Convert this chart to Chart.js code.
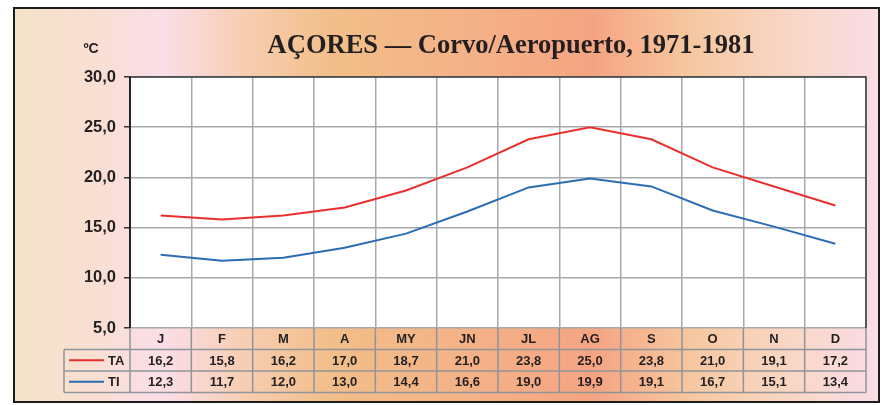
<!DOCTYPE html>
<html>
<head>
<meta charset="utf-8">
<script src="https://cdn.jsdelivr.net/npm/chart.js@4/dist/chart.umd.min.js"></script>
<style>
  body { margin: 0; background: #fff; }
  #frame {
    position: absolute; left: 13px; top: 7px; width: 867px; height: 396px;
    box-sizing: border-box; border: 2px solid #1c1c1c;
    background: linear-gradient(to right, #f4e3c8 0%, #f9dfd2 9%, #fbdee8 17%, #f7cdb0 27%, #f2be88 37%, #f4b287 52%, #f5a482 67%, #f6c79f 78%, #f9d6c2 89%, #fadde6 100%);
  }
  #wrap { position: absolute; left: 0; top: 0; width: 887px; height: 405px; }
</style>
</head>
<body>
<div id="frame"></div>
<div id="wrap"><canvas id="chart"></canvas></div>
<script>
// Corvo/Aeropuerto monthly temperatures
const months = ['J', 'F', 'M', 'A', 'MY', 'JN', 'JL', 'AG', 'S', 'O', 'N', 'D'];
const taValues = [16.2, 15.8, 16.2, 17.0, 18.7, 21.0, 23.8, 25.0, 23.8, 21.0, 19.1, 17.2];
const tiValues = [12.3, 11.7, 12.0, 13.0, 14.4, 16.6, 19.0, 19.9, 19.1, 16.7, 15.1, 13.4];
const seriesNames = ['TA', 'TI'];
const yTicks = [5, 10, 15, 20, 25, 30];

const titleText = 'AÇORES — Corvo/Aeropuerto, 1971-1981';
const unitText = 'ºC';
const gridColor = '#a6aaae';
const tableLine = '#8f959a';

function fmt(v) { return v.toFixed(1).replace('.', ','); }

// white plot background
const plotBg = {
    id: 'plotBg',
    beforeDraw(chart) {
        const a = chart.chartArea;
        chart.ctx.save();
        chart.ctx.fillStyle = '#fff';
        chart.ctx.fillRect(a.left, a.top, a.right - a.left, a.bottom - a.top);
        chart.ctx.restore();
    }
};

// draws title, plot frame and the data table under the plot
const tablePlugin = {
    id: 'tablePlugin',
    afterDraw(chart) {
        const ctx = chart.ctx;
        const area = chart.chartArea;
        const x = chart.scales.x;
        const colW = (area.right - area.left) / months.length;
        const rowH = 21.5;
        const legendLeft = area.left - 66;
        ctx.save();

        // title + unit
        ctx.fillStyle = '#231f20';
        ctx.font = 'bold 26.5px "Liberation Serif", "Times New Roman", serif';
        ctx.textAlign = 'center';
        ctx.textBaseline = 'middle';
        ctx.fillText(titleText, 511, 46);
        ctx.font = 'bold 14px "Liberation Sans", Arial, sans-serif';
        ctx.fillText(unitText, 91, 49);

        // table lines
        ctx.strokeStyle = tableLine;
        ctx.lineWidth = 1.5;
        ctx.beginPath();
        for (let r = 1; r <= 3; r++) {
            const y = area.bottom + r * rowH;
            ctx.moveTo(legendLeft, y);
            ctx.lineTo(area.right, y);
        }
        ctx.moveTo(legendLeft, area.bottom + rowH);
        ctx.lineTo(legendLeft, area.bottom + 3 * rowH);
        for (let i = 0; i <= months.length; i++) {
            const xx = area.left + i * colW;
            ctx.moveTo(xx, area.bottom);
            ctx.lineTo(xx, area.bottom + 3 * rowH);
        }
        ctx.stroke();

        // plot frame
        ctx.strokeStyle = '#3a3a3a';
        ctx.lineWidth = 1.5;
        ctx.beginPath();
        ctx.moveTo(area.left, area.bottom);
        ctx.lineTo(area.left, area.top);
        ctx.lineTo(area.right, area.top);
        ctx.lineTo(area.right, area.bottom);
        ctx.stroke();
        ctx.strokeStyle = '#111';
        ctx.beginPath();
        ctx.moveTo(area.left, area.top);
        ctx.lineTo(area.left, area.bottom);
        ctx.stroke();

        // months and values
        ctx.fillStyle = '#231f20';
        ctx.font = 'bold 13px "Liberation Sans", Arial, sans-serif';
        ctx.textAlign = 'center';
        months.forEach((m, i) => {
            const cx = x.getPixelForValue(i);
            ctx.fillText(m, cx, area.bottom + rowH * 0.5 + 1);
            chart.data.datasets.forEach((ds, d) => {
                ctx.fillText(fmt(ds.data[i]), cx, area.bottom + rowH * (1.5 + d) + 1);
            });
        });

        // legend cells
        chart.data.datasets.forEach((ds, d) => {
            const cy = area.bottom + rowH * (1.5 + d);
            ctx.strokeStyle = ds.borderColor;
            ctx.lineWidth = 2;
            ctx.beginPath();
            ctx.moveTo(legendLeft + 5, cy);
            ctx.lineTo(legendLeft + 40, cy);
            ctx.stroke();
            ctx.fillStyle = '#231f20';
            ctx.textAlign = 'left';
            ctx.fillText(ds.label, legendLeft + 44, cy + 1);
        });
        ctx.restore();
    }
};

const chart = new Chart(document.getElementById('chart'), {
    type: 'line',
    data: {
        labels: months,
        datasets: [
            { label: seriesNames[0], data: taValues, borderColor: '#e8302e', borderWidth: 2, pointRadius: 0, tension: 0 },
            { label: seriesNames[1], data: tiValues, borderColor: '#2b6cb3', borderWidth: 2, pointRadius: 0, tension: 0 }
        ]
    },
    options: {
        responsive: true,
        maintainAspectRatio: false,
        animation: false,
        layout: { padding: { left: 0, right: 21, top: 77, bottom: 77 } },
        plugins: { legend: { display: false }, tooltip: { enabled: false } },
        scales: {
            x: {
                type: 'category',
                offset: true,
                grid: { offset: true, color: gridColor, lineWidth: 1.5, drawTicks: false },
                border: { display: false },
                ticks: { display: false },
                afterFit(scale) { scale.height = 0; }
            },
            y: {
                min: yTicks[0],
                max: yTicks[yTicks.length - 1],
                afterBuildTicks(scale) { scale.ticks = yTicks.map(v => ({ value: v })); },
                grid: { color: gridColor, lineWidth: 1.5, tickLength: 6, tickColor: '#333' },
                border: { display: false },
                ticks: {
                    padding: 8,
                    color: '#231f20',
                    font: { family: '"Liberation Sans", Arial, sans-serif', size: 16.5, weight: 'bold' },
                    callback: v => fmt(v)
                },
                afterFit(scale) { scale.width = 130; }
            }
        }
    },
    plugins: [plotBg, tablePlugin]
});
</script>
</body>
</html>
